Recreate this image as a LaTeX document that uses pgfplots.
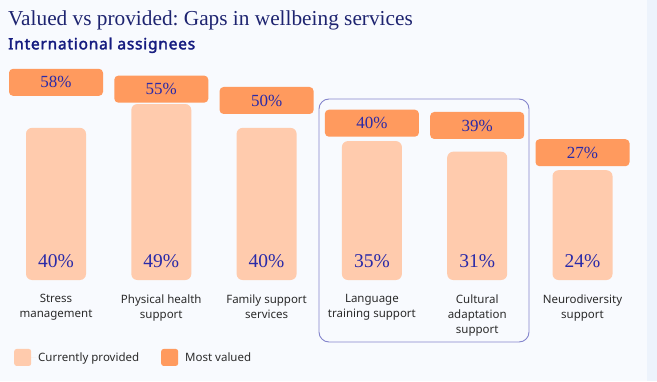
\documentclass[border=0pt]{standalone}
\usepackage{pgfplots}
\pgfplotsset{compat=1.18}
\usepackage{pgfplotstable}
\usepackage{fontspec}
\setmainfont{Noto Sans}
\newfontfamily\subfont{Noto Sans}[FakeBold=2.2, LetterSpace=5]
\newfontfamily\seriffont{Liberation Serif}
\frenchspacing
\definecolor{bg}{HTML}{F8FAFE}
\definecolor{strip}{HTML}{EDF3FC}
\definecolor{peach}{HTML}{FFCBAD}
\definecolor{orng}{HTML}{FF9A5E}
\definecolor{numblue}{HTML}{2A2AA8}
\definecolor{navy}{HTML}{1E2470}
\definecolor{subnavy}{HTML}{161C80}
\definecolor{boxline}{HTML}{8484CC}
\definecolor{labgray}{HTML}{2B2B2B}

\pgfplotstableread{
x prov val
0 40 58
1 49 55
2 40 50
3 35 40
4 31 39
5 24 27
}\datatable

\begin{document}
\begin{tikzpicture}
\useasboundingbox (0,0) rectangle (657pt,381pt);
\fill[bg] (0,0) rectangle (657pt,381pt);
\fill[strip] (647pt,0) rectangle (657pt,381pt);
\node[anchor=base west, inner sep=0, text=navy, font=\seriffont\fontsize{21.3}{25}\selectfont] at (8pt,355pt) {Valued vs provided: Gaps in wellbeing services};
\node[anchor=base west, inner sep=0, text=subnavy, font=\subfont\fontsize{15.5}{18}\selectfont] at (8pt,331.7pt) {International assignees};
\pgfplotsset{base/.style={scale only axis, width=631.8pt, height=220pt, at={(3.35pt,101pt)}, anchor=south west, xmin=-0.5, xmax=5.5, axis line style={draw=none}, major tick length=0pt, ytick=\empty}}
\begin{axis}[base, ymin=5, ymax=88.08, xtick=data,
  xticklabels={{Stress\\management},{Physical health\\support},{Family support\\services},{Language\\training support},{Cultural\\adaptation\\support},{Neurodiversity\\support}},
  xticklabel style={align=center, font=\fontsize{11.5}{15}\selectfont, text=labgray, yshift=-11pt},
  legend style={at={(0.01686,-0.352)}, anchor=west, draw=none, fill=none, legend columns=2, inner sep=0pt, font=\fontsize{11.5}{14}\selectfont, text=labgray, /tikz/every even column/.append style={column sep=20pt}},
  legend cell align=left]
\addplot[ybar, bar width=60pt, fill=peach, draw=none, rounded corners=6pt,
  legend image code/.code={\fill[peach, rounded corners=2.5pt] (0pt,-8.5pt) rectangle (17pt,8.5pt);\path[draw=none] (0pt,0pt) -- (22pt,0pt);}]
  table[x=x, y expr=\thisrow{prov}+22.45]{\datatable};
\addlegendentry{Currently provided}
\addlegendimage{draw=none, legend image code/.code={\fill[orng, rounded corners=2.5pt] (0pt,-8.5pt) rectangle (17pt,8.5pt);\path[draw=none] (0pt,0pt) -- (22pt,0pt);}}
\addlegendentry{Most valued}
\addplot[forget plot, draw=none, mark=none, point meta=explicit symbolic,
  nodes near coords={\pgfplotspointmeta\%},
  every node near coord/.append style={anchor=center, font=\seriffont\fontsize{19.5}{22}\selectfont, text=numblue}]
  table[x=x, y expr=12.29, meta=prov]{\datatable};
\end{axis}
\begin{axis}[base, ymin=-29.07, ymax=67.84, xtick=\empty, clip=false]
\addplot[draw=none, mark=none, point meta=explicit symbolic,
  nodes near coords={\pgfplotspointmeta\%},
  every node near coord/.append style={anchor=center, fill=orng, rounded corners=4pt, minimum width=94pt, minimum height=27pt, inner sep=0pt, text=numblue, font=\seriffont\fontsize{17}{20}\selectfont}]
  table[x=x, y=val, meta=val]{\datatable};
\end{axis}
\draw[boxline, line width=0.9pt, rounded corners=10pt] (319pt,39pt) rectangle (529pt,282pt);
\end{tikzpicture}
\end{document}
